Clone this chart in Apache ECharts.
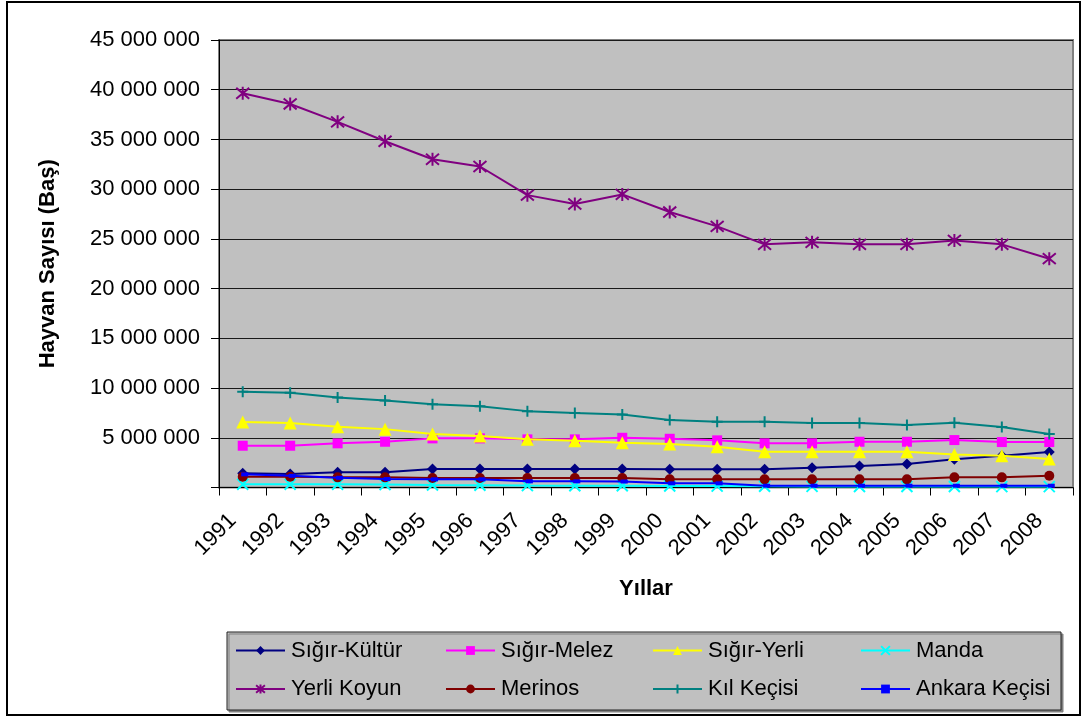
<!DOCTYPE html>
<html>
<head>
<meta charset="utf-8">
<script src="https://cdn.jsdelivr.net/npm/echarts@6/dist/echarts.min.js"></script>
<style>
html,body{margin:0;padding:0;background:#fff;}
#c{width:1084px;height:719px;}
</style>
</head>
<body>
<div id="c"></div>
<script>
var years = ['1991','1992','1993','1994','1995','1996','1997','1998','1999','2000','2001','2002','2003','2004','2005','2006','2007','2008'];
var seriesNames = ['Sığır-Kültür','Sığır-Melez','Sığır-Yerli','Manda','Yerli Koyun','Merinos','Kıl Keçisi','Ankara Keçisi'];
var sigirKultur = [1430000,1360000,1530000,1530000,1860000,1860000,1860000,1860000,1860000,1830000,1830000,1830000,1990000,2160000,2360000,2830000,3190000,3560000];
var sigirMelez = [4200000,4200000,4440000,4600000,4940000,4940000,4840000,4840000,5000000,4900000,4740000,4440000,4440000,4600000,4600000,4770000,4570000,4570000];
var sigirYerli = [6580000,6480000,6110000,5870000,5370000,5170000,4840000,4700000,4500000,4370000,4100000,3600000,3600000,3600000,3600000,3330000,3190000,2860000];
var manda = [320000,320000,320000,300000,250000,220000,190000,180000,170000,150000,140000,120000,110000,100000,100000,100000,90000,90000];
var yerliKoyun = [39640000,38570000,36770000,34820000,33010000,32280000,29400000,28510000,29470000,27700000,26260000,24450000,24650000,24450000,24450000,24850000,24450000,23010000];
var merinos = [1080000,1080000,1020000,1020000,950000,950000,950000,950000,950000,820000,820000,820000,820000,820000,820000,1020000,1020000,1180000];
var kilKecisi = [9620000,9520000,9060000,8750000,8380000,8180000,7680000,7480000,7350000,6780000,6610000,6610000,6480000,6480000,6280000,6510000,6080000,5370000];
var ankaraKecisi = [1320000,1180000,980000,850000,820000,820000,620000,620000,600000,420000,420000,180000,180000,180000,180000,180000,180000,180000];
var yTicks = {min: 0, max: 45000000, interval: 5000000};

var allData = [sigirKultur, sigirMelez, sigirYerli, manda, yerliKoyun, merinos, kilKecisi, ankaraKecisi];
var colors = ['#000080','#FF00FF','#FFFF00','#00FFFF','#800080','#800000','#008080','#0000FF'];
var symbols = ['diamond','rect','triangle','path://M0,0L10,10M10,0L0,10','path://M0,0L10,10M10,0L0,10M5,-1L5,11','circle','path://M5,0L5,10M0,5L10,5','rect'];
var symbolSizes = [11,10,13,11,13,10,11,[7,4]];
var borderW = [0,0,0,2,2,0,2,0];

var FONT = '"Liberation Sans", Arial, sans-serif';
var chart = echarts.init(document.getElementById('c'), null, {renderer:'canvas'});

var series = seriesNames.map(function(n, i){
  return {
    name: n, type: 'line', data: allData[i],
    symbol: symbols[i], symbolSize: symbolSizes[i], showAllSymbol: true,
    symbolOffset: i === 7 ? [2,0] : [0,0],
    lineStyle: {color: colors[i], width: 2},
    itemStyle: {color: borderW[i] ? 'rgba(0,0,0,0)' : colors[i], borderColor: colors[i], borderWidth: borderW[i], opacity: 1},
    emphasis: {disabled: true},
    z: 3 + i
  };
});

var colX = [235, 445, 652, 860];
var rowY = [650.5, 689];
var legends = seriesNames.map(function(n, i){
  return {
    data: [n], left: colX[i % 4], top: rowY[Math.floor(i / 4)] - 11,
    orient: 'horizontal', padding: 0, itemWidth: 49, itemHeight: 11, itemGap: 0,
    selectedMode: false,
    textStyle: {fontFamily: FONT, fontSize: 22, color: '#000', lineHeight: 22, padding: [0,0,0,1]},
    z: 10
  };
});

chart.setOption({
  animation: false,
  backgroundColor: '#fff',
  textStyle: {fontFamily: FONT},
  grid: {left: 219, right: 11, top: 40, bottom: 231.5, show: true, backgroundColor: '#C0C0C0', borderColor: '#808080', borderWidth: 2, containLabel: false},
  legend: legends,
  graphic: [
    {type: 'rect', shape: {x: 7, y: 2, width: 1073, height: 713}, style: {fill: 'none', stroke: '#000', lineWidth: 2}, z: 100, silent: true},
    {type: 'rect', shape: {x: 227, y: 632, width: 834, height: 78}, style: {fill: '#C0C0C0', stroke: '#222', lineWidth: 1, shadowColor: '#808080', shadowOffsetX: 2, shadowOffsetY: 2, shadowBlur: 0}, z: 1, silent: true}
  ],
  xAxis: {
    type: 'category', data: years, boundaryGap: true,
    name: 'Yıllar', nameLocation: 'middle', nameGap: 90,
    nameTextStyle: {fontFamily: FONT, fontSize: 22, fontWeight: 'bold', color: '#000'},
    axisLine: {lineStyle: {color: '#000', width: 1}},
    axisTick: {show: true, interval: 0, length: 8, lineStyle: {color: '#000'}},
    axisLabel: {interval: 0, rotate: 45, margin: 20, fontSize: 22, fontFamily: FONT, color: '#000', padding: [0,14,0,0]},
    splitLine: {show: false}
  },
  yAxis: {
    type: 'value', min: yTicks.min, max: yTicks.max, interval: yTicks.interval,
    name: 'Hayvan Sayısı (Baş)', nameLocation: 'middle', nameGap: 160, nameRotate: 90,
    nameTextStyle: {fontFamily: FONT, fontSize: 22, fontWeight: 'bold', color: '#000'},
    axisLine: {show: true, lineStyle: {color: '#000', width: 1}},
    axisTick: {show: true, length: 8, lineStyle: {color: '#000'}},
    axisLabel: {margin: 19, fontSize: 22, fontFamily: FONT, color: '#000',
      formatter: function(v){ return v === 0 ? '' : String(v).replace(/\B(?=(\d{3})+(?!\d))/g, ' '); }},
    splitLine: {show: true, lineStyle: {color: '#1a1a1a', width: 1}}
  },
  series: series
});
</script>
</body>
</html>
